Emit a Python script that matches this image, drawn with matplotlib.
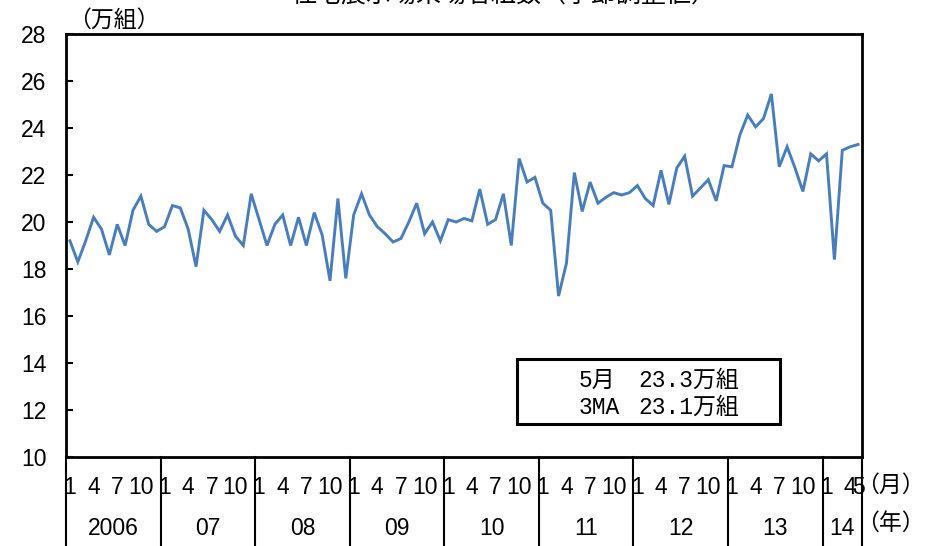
import matplotlib
matplotlib.use("Agg")
import matplotlib.pyplot as plt
import matplotlib.transforms as mtransforms
from matplotlib.patches import Rectangle
import numpy as np

plt.rcParams['font.family'] = ['Liberation Sans', 'Noto Sans CJK JP']

# ---- data (monthly, Jan 2006 - May 2014), 万組 ----
values_2006 = [19.2, 18.3, 19.2, 20.2, 19.7, 18.6, 19.9, 19.0, 20.5, 21.1, 19.9, 19.6]
values_2007 = [19.8, 20.7, 20.6, 19.7, 18.1, 20.5, 20.1, 19.6, 20.3, 19.4, 19.0, 21.2]
values_2008 = [20.1, 19.0, 19.9, 20.3, 19.0, 20.2, 19.0, 20.4, 19.45, 17.5, 21.0, 17.6]
values_2009 = [20.3, 21.2, 20.3, 19.8, 19.5, 19.15, 19.3, 20.0, 20.8, 19.5, 20.0, 19.2]
values_2010 = [20.1, 20.0, 20.15, 20.05, 21.4, 19.9, 20.1, 21.2, 19.0, 22.7, 21.7, 21.9]
values_2011 = [20.8, 20.5, 16.85, 18.25, 22.1, 20.45, 21.7, 20.8, 21.05, 21.25, 21.15, 21.25]
values_2012 = [21.55, 21.0, 20.7, 22.2, 20.75, 22.3, 22.8, 21.1, 21.45, 21.8, 20.9, 22.4]
values_2013 = [22.35, 23.7, 24.55, 24.05, 24.4, 25.45, 22.35, 23.2, 22.3, 21.3, 22.9, 22.6]
values_2014 = [22.9, 18.4, 23.05, 23.2, 23.3]

year_labels = ["2006", "07", "08", "09", "10", "11", "12", "13", "14"]
month_tick_labels = ["1", "4", "7", "10"]
month_tick_labels_last = ["1", "4", "5"]
yticks = [10, 12, 14, 16, 18, 20, 22, 24, 26, 28]
title = "住宅展示場来場者組数（季節調整値）"
unit_label = "（万組）"
box_labels = ["5月", "3MA"]
box_values = ["23.3万組", "23.1万組"]

series = (values_2006 + values_2007 + values_2008 + values_2009 + values_2010 +
          values_2011 + values_2012 + values_2013 + values_2014)
n = len(series)
year_lengths = [12] * 8 + [len(values_2014)]

fig = plt.figure(figsize=(9.44, 5.46), dpi=100)
ax = fig.add_axes([66 / 944, 89 / 546, 796 / 944, 423 / 546])

x = np.arange(n) + 0.5
ax.plot(x, series, color='#4a7ebb', lw=2.1, solid_joinstyle='miter')

ax.set_xlim(0, n)
ax.set_ylim(10, 28)
ax.set_yticks(yticks)
ax.set_yticklabels([str(v) for v in yticks], fontsize=16.5)
ax.tick_params(axis='y', direction='in', length=5, width=1.5, pad=14)
ax.set_xticks([])
for s in ax.spines.values():
    s.set_linewidth(2)
    s.set_color('black')

trans = mtransforms.blended_transform_factory(ax.transData, ax.transAxes)

# month & year labels, dividers
start = 0
for idx, (yl, ln) in enumerate(zip(year_labels, year_lengths)):
    if ln == 12:
        labs = month_tick_labels
        months = [0, 3, 6, 9]
    else:
        labs = month_tick_labels_last
        months = [0, 3, ln - 1]
    for m, lab in zip(months, labs):
        ax.text(start + m + 0.5, -0.071, lab, transform=trans, ha='center',
                va='center', fontsize=16.5, clip_on=False)
    ax.text(start + ln / 2, -0.168, yl, transform=trans, ha='center', va='center',
            fontsize=16.5, clip_on=False)
    ax.plot([start, start], [0, -0.215], transform=trans, color='black', lw=1.5,
            clip_on=False)
    start += ln
ax.plot([start, start], [0, -0.215], transform=trans, color='black', lw=1.5,
        clip_on=False)

fig.text(890 / 944, 1 - 485 / 546, "（月）", ha='center', va='center', fontsize=16.5)
fig.text(890 / 944, 1 - 523 / 546, "（年）", ha='center', va='center', fontsize=16.5)
fig.text(114 / 944, 1 - 20 / 546, unit_label, ha='center', va='center', fontsize=16.5)
fig.text(504 / 944, 1 + 5 / 546, title, ha='center', va='center', fontsize=18)

# annotation box
ax.add_patch(Rectangle((0.567, 0.078), 0.33, 0.154, transform=ax.transAxes,
                       fill=False, edgecolor='black', lw=2.2, clip_on=False))
for k, (lab, val) in enumerate(zip(box_labels, box_values)):
    yy = [0.182, 0.118][k]
    ax.text(0.644, yy, lab, transform=ax.transAxes, ha='left', va='center',
            fontsize=16.5, family=['Liberation Mono', 'Noto Sans CJK JP'])
    ax.text(0.7195, yy, val, transform=ax.transAxes, ha='left', va='center',
            fontsize=16.5, family=['Liberation Mono', 'Noto Sans CJK JP'])

fig.savefig("out.png", dpi=100)
